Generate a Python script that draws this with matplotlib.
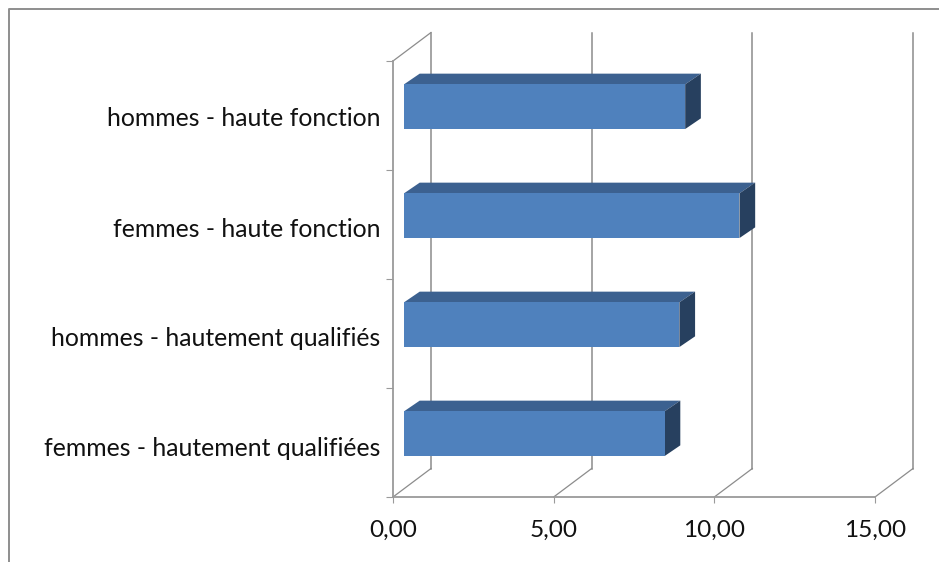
import matplotlib
matplotlib.use('Agg')
import matplotlib.pyplot as plt
from matplotlib.lines import Line2D
from matplotlib.patches import Polygon

categories = ['femmes - hautement qualifiées', 'hommes - hautement qualifiés',
              'femmes - haute fonction', 'hommes - haute fonction']
values = [8.11, 8.57, 10.44, 8.75]
x_ticks = [0, 5, 10, 15]
x_labels = ['0,00', '5,00', '10,00', '15,00']

W, H = 939, 562
plt.rcParams['font.family'] = ['Lato', 'DejaVu Sans']

fig = plt.figure(figsize=(W / 100, H / 100), dpi=100)
ax = fig.add_axes([393 / W, 1 - 497 / H, (875 - 393) / W, (497 - 61) / H])
ax.set_xlim(0, 15)
ax.set_ylim(-0.5, 3.5)
ax.patch.set_visible(False)

# 3d look: everything in the depth is a pixel shift turned into data units
px_x = 15 / (875 - 393)
px_y = 4 / (497 - 61)
wall_dx, wall_dy = 38 * px_x, 28.5 * px_y
start = 11 * px_x
depth_dx, depth_dy = 15.7 * px_x, 10.7 * px_y
bar_shift = 8.8 * px_y
bar_h = 44.7 * px_y
label_drop = [4 * px_y, 3 * px_y, 3 * px_y, 1 * px_y]

grid = '#8c8c8c'
front = '#4f81bd'
top = '#3c6190'
side = '#27405f'

# walls
for t in x_ticks:
    ax.plot([t, t + wall_dx], [-0.5, -0.5 + wall_dy], color=grid, lw=0.9, clip_on=False, zorder=1)
    ax.plot([t + wall_dx, t + wall_dx], [-0.5 + wall_dy, 3.5 + wall_dy], color=grid, lw=1.1,
            clip_on=False, zorder=1)
ax.plot([0, wall_dx], [3.5, 3.5 + wall_dy], color=grid, lw=0.9, clip_on=False, zorder=1)

# bars
ypos = list(range(len(values)))
yc = [y + bar_shift for y in ypos]
ax.barh(yc, values, height=bar_h, left=start, color=front, clip_on=False, zorder=4)
for y, v in zip(yc, values):
    x0 = start
    x1 = start + v
    y0 = y - bar_h / 2
    y1 = y + bar_h / 2
    ax.add_patch(Polygon([(x0, y1), (x1, y1), (x1 + depth_dx, y1 + depth_dy), (x0 + depth_dx, y1 + depth_dy)],
                         closed=True, fc=top, ec='none', clip_on=False, zorder=3))
    ax.add_patch(Polygon([(x1, y0), (x1, y1), (x1 + depth_dx, y1 + depth_dy), (x1 + depth_dx, y0 + depth_dy)],
                         closed=True, fc=side, ec='none', clip_on=False, zorder=3))

for s in ['top', 'right']:
    ax.spines[s].set_visible(False)
for s in ['left', 'bottom']:
    ax.spines[s].set_color('#9a9a9a')
    ax.spines[s].set_linewidth(1.3)

ax.set_xticks(x_ticks)
ax.set_xticklabels(x_labels, fontsize=17.6, color='#111111')
ax.tick_params(axis='x', length=4, color='#9a9a9a', pad=12.5)
ax.set_yticks([-0.5, 0.5, 1.5, 2.5, 3.5])
ax.set_yticklabels([])
ax.tick_params(axis='y', which='major', length=5, color='#9a9a9a')
ax.set_yticks([y - d for y, d in zip(ypos, label_drop)], minor=True)
ax.set_yticklabels(categories, minor=True, fontsize=17.8, color='#111111')
ax.tick_params(axis='y', which='minor', length=0, pad=9)

# chart area border, runs off the right and bottom edges
fig.add_artist(Line2D([8.5 / W, 8.5 / W, 1], [0, 1 - 8.5 / H, 1 - 8.5 / H],
                      transform=fig.transFigure, color='#8e8e8e', lw=1.4))

fig.savefig('out.png', dpi=100, facecolor='white')
